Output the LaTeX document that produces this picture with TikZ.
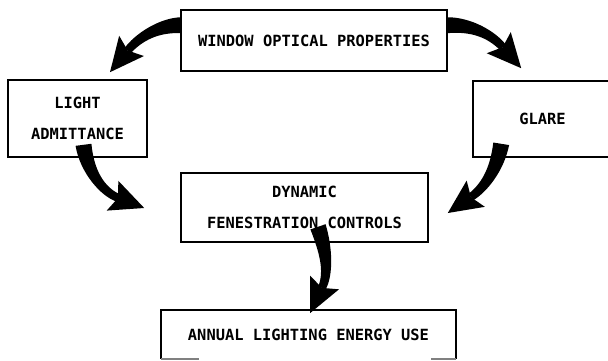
\documentclass[tikz,border=0pt]{standalone}
\usepackage{fontspec}
\newfontfamily\labfont{DejaVu Sans Mono}
\usetikzlibrary{calc}
% tapered curved arrow: start, control 1, control 2, tip
\newcommand\fatarrow[4]{%
  \coordinate (fB) at ($(#4)!28pt!(#3)$);
  \coordinate (fK) at ($(fB)!6pt!(#3)$);
  \coordinate (l0) at ($(#1)!8pt!90:(#2)$);
  \coordinate (l1) at ($(#2)!7pt!-90:(#1)$);
  \coordinate (l2) at ($(#3)!5pt!90:(fB)$);
  \coordinate (l3) at ($(fB)!4pt!-90:(#3)$);
  \coordinate (r0) at ($(#1)!8pt!-90:(#2)$);
  \coordinate (r1) at ($(#2)!7pt!90:(#1)$);
  \coordinate (r2) at ($(#3)!5pt!-90:(fB)$);
  \coordinate (r3) at ($(fB)!4pt!90:(#3)$);
  \fill[arrowfill] (l0) .. controls (l1) and (l2) .. (l3) -- (r3) .. controls (r2) and (r1) .. (r0) -- cycle;
  \fill[arrowfill] (#4) -- ($(fK)!16pt!90:(#3)$) -- (fB) -- ($(fK)!16pt!-90:(#3)$) -- cycle;
}
\begin{document}
\begin{tikzpicture}[x=1pt,y=-1pt,
  box/.style={draw=black,line width=1.6pt,inner sep=0pt,align=center,
    font=\labfont\bfseries\fontsize{15.4}{31}\selectfont},
  arrowfill/.style={fill=black}]
\useasboundingbox (0,0) rectangle (608,361);
\fill[white] (0,0) rectangle (608,361);
\begin{scope}
\clip (0,0) rectangle (608,361);
\node[box,minimum width=266pt,minimum height=61pt] (win) at (314,40.5) {WINDOW OPTICAL PROPERTIES};
\node[box,minimum width=139pt,minimum height=77pt] (light) at (77.5,118.5) {LIGHT\\ADMITTANCE};
\node[box,minimum width=139pt,minimum height=76pt] (glare) at (542.5,119) {GLARE};
\node[box,minimum width=247pt,minimum height=69pt] (dyn) at (304.5,207.5) {DYNAMIC\\FENESTRATION CONTROLS};
\node[box,draw=none,minimum width=293pt,minimum height=47pt] (annual) at (308.5,334.5) {ANNUAL LIGHTING ENERGY USE};
\draw[line width=1.6pt] (annual.south west) -- (annual.north west) -- (annual.north east) -- (annual.south east);
\draw[line width=1.6pt,gray] (annual.south west) -- ++(38,0);
\draw[line width=1.6pt,gray] (annual.south east) -- ++(-25,0);

% window -> light admittance
\coordinate (a1s) at ($(win.north west)+(1,16)$);
\coordinate (a1e) at ($(light.north)+(32.5,-7)$);
\fatarrow{a1s}{158,25}{138,38}{a1e}
% window -> glare
\coordinate (a2s) at ($(win.north east)+(-1,16)$);
\coordinate (a2e) at ($(glare.north west)+(49,-12)$);
\fatarrow{a2s}{472,24}{492,35}{a2e}
% light admittance -> dynamic
\coordinate (a3s) at ($(light.south)+(6,-13)$);
\coordinate (a3e) at ($(dyn.west)+(-36,0.5)$);
\fatarrow{a3s}{87,172}{103,192}{a3e}
% glare -> dynamic
\coordinate (a4s) at ($(glare.south west)+(29,-14)$);
\coordinate (a4e) at ($(dyn.east)+(19,5.5)$);
\fatarrow{a4s}{497,170}{484,188}{a4e}
% dynamic -> annual
\coordinate (a5s) at ($(dyn.south)+(13.5,-16)$);
\coordinate (a5e) at ($(annual.north)+(1.5,3)$);
\fatarrow{a5s}{326,250}{329,273}{a5e}
\end{scope}
\end{tikzpicture}
\end{document}
